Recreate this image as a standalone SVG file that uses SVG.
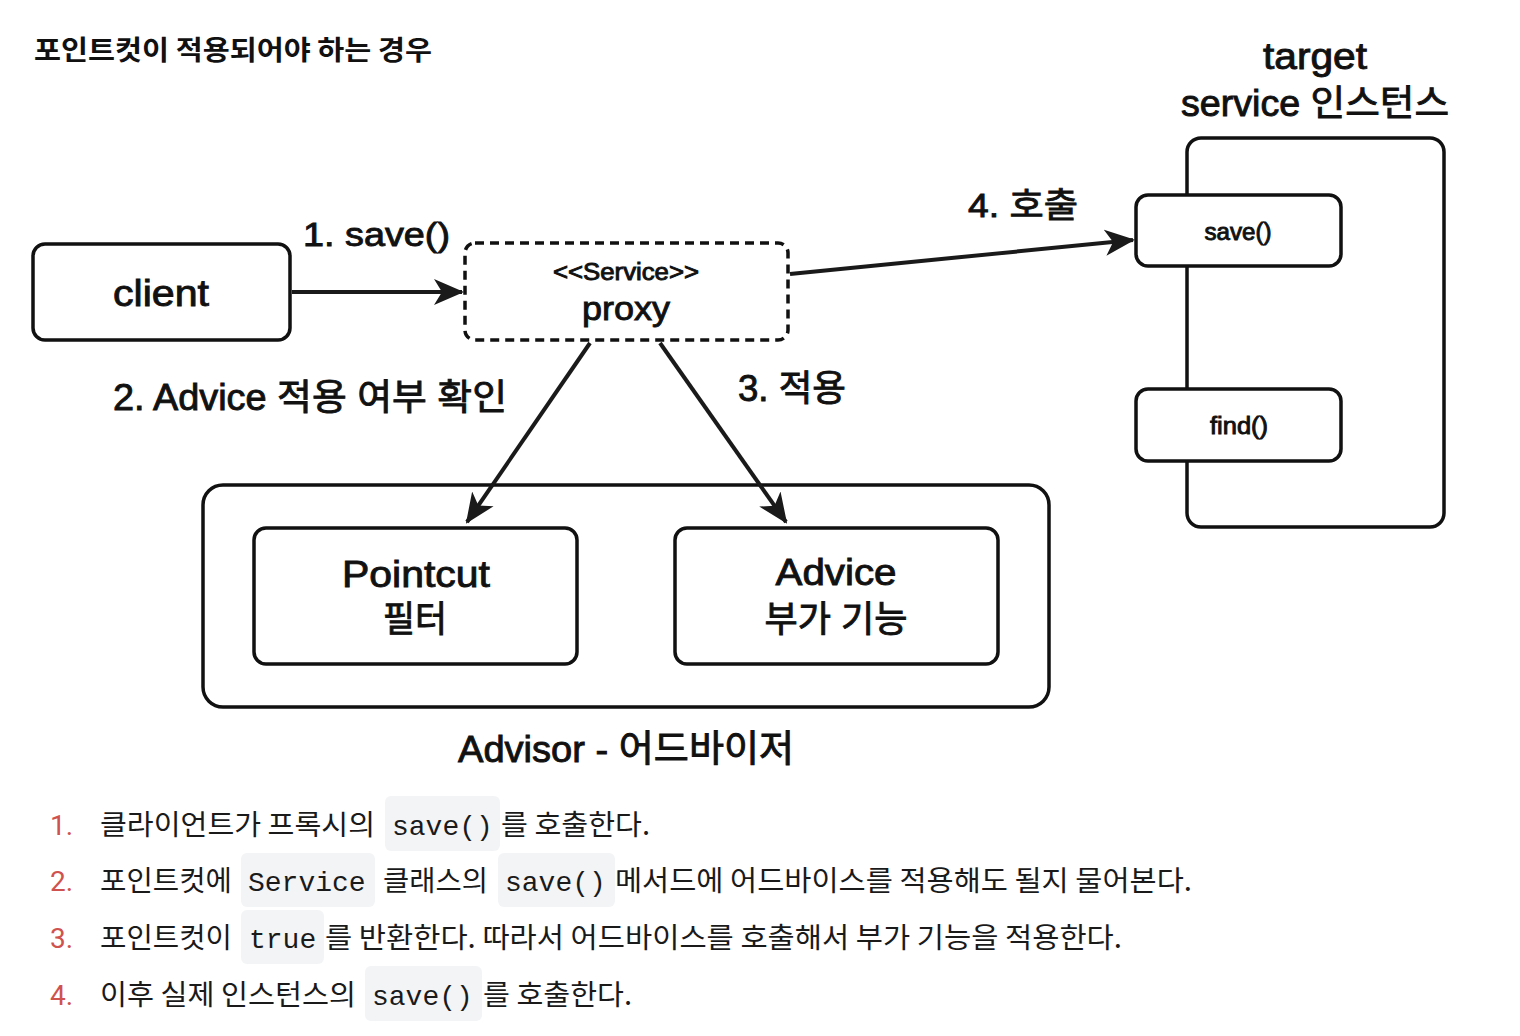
<svg xmlns="http://www.w3.org/2000/svg" width="1520" height="1036" viewBox="0 0 1520 1036">
<style>
.box{fill:#fff;stroke:#111;stroke-width:3.5}
.dash{fill:#fff;stroke:#111;stroke-width:3.5;stroke-dasharray:9 6}
.t{font-family:"Liberation Sans","Noto Sans CJK KR",sans-serif;fill:#111;stroke:#111;stroke-width:0.9;lengthAdjust:spacingAndGlyphs}
.c{text-anchor:middle}
.conn{stroke:#1a1a1a;stroke-width:4;fill:none;marker-end:url(#ah)}
.li{font-family:"Noto Sans CJK KR",sans-serif;font-size:28px;fill:#1a1a1a}
.num{font-family:Roboto,"Noto Sans CJK KR",sans-serif;font-size:28px;fill:#d0524e}
.code{font-family:"Liberation Mono","DejaVu Sans Mono",monospace;font-size:28px;fill:#1a1a1a}
.cbg{fill:#f3f4f6}
</style>
<defs>
<marker id="ah" viewBox="0 0 30 30" refX="28" refY="15" markerWidth="30" markerHeight="30" markerUnits="userSpaceOnUse" orient="auto">
<path d="M0,2 L30,15 L0,28 L8,15 z" fill="#1a1a1a"/>
</marker>
</defs>
<rect width="1520" height="1036" fill="#fff"/>
<text x="34" y="60" font-family="Noto Sans CJK KR,sans-serif" font-size="27" font-weight="bold" fill="#111" textLength="398" lengthAdjust="spacingAndGlyphs">포인트컷이 적용되어야 하는 경우</text>

<g id="labels">
<text class="t" x="303" y="246" font-size="34" textLength="147" lengthAdjust="spacingAndGlyphs">1. save()</text>
<text class="t" x="968" y="217" font-size="34" textLength="110" lengthAdjust="spacingAndGlyphs">4. 호출</text>
<text class="t" x="113" y="410" font-size="36" textLength="394" lengthAdjust="spacingAndGlyphs">2. Advice 적용 여부 확인</text>
<text class="t" x="738" y="401" font-size="36" textLength="108" lengthAdjust="spacingAndGlyphs">3. 적용</text>
</g>

<g id="client">
<rect class="box" x="33" y="244" width="257" height="96" rx="12"/>
<text class="t c" x="161" y="306" font-size="37" textLength="96" lengthAdjust="spacingAndGlyphs">client</text>
</g>

<g id="proxy">
<rect class="dash" x="465" y="243" width="323" height="97" rx="10"/>
<text class="t c" x="626" y="280" font-size="23" stroke-width="0.5" textLength="146" lengthAdjust="spacingAndGlyphs">&lt;&lt;Service&gt;&gt;</text>
<text class="t c" x="626" y="320" font-size="33" textLength="88" lengthAdjust="spacingAndGlyphs">proxy</text>
</g>

<g id="target">
<text class="t c" x="1315" y="69" font-size="36" textLength="104" lengthAdjust="spacingAndGlyphs">target</text>
<text class="t c" x="1315" y="116" font-size="36" textLength="268" lengthAdjust="spacingAndGlyphs">service 인스턴스</text>
<rect class="box" x="1187" y="138" width="257" height="389" rx="14"/>
</g>
<g id="target-save">
<rect class="box" x="1136" y="195" width="205" height="71" rx="12"/>
<text class="t c" x="1238" y="240" font-size="23" stroke-width="0.5" textLength="67" lengthAdjust="spacingAndGlyphs">save()</text>
</g>
<g id="target-find">
<rect class="box" x="1136" y="389" width="205" height="72" rx="12"/>
<text class="t c" x="1239" y="434" font-size="23" stroke-width="0.5" textLength="58" lengthAdjust="spacingAndGlyphs">find()</text>
</g>

<g id="advisor">
<rect class="box" x="203" y="485" width="846" height="222" rx="20"/>
<text class="t c" x="626" y="762" font-size="37" textLength="336" lengthAdjust="spacingAndGlyphs">Advisor - 어드바이저</text>
</g>
<g id="pointcut">
<rect class="box" x="254" y="528" width="323" height="136" rx="12"/>
<text class="t c" x="416" y="587" font-size="37" textLength="148" lengthAdjust="spacingAndGlyphs">Pointcut</text>
<text class="t c" x="415" y="632" font-size="36" textLength="64" lengthAdjust="spacingAndGlyphs">필터</text>
</g>
<g id="advice">
<rect class="box" x="675" y="528" width="323" height="136" rx="12"/>
<text class="t c" x="836" y="585" font-size="37" textLength="121" lengthAdjust="spacingAndGlyphs">Advice</text>
<text class="t c" x="836" y="632" font-size="36" textLength="143" lengthAdjust="spacingAndGlyphs">부가 기능</text>
</g>

<g id="connectors">
<line class="conn" x1="292" y1="292" x2="462" y2="292"/>
<line class="conn" x1="790" y1="274" x2="1133" y2="240"/>
<line class="conn" x1="590" y1="343" x2="467" y2="522"/>
<line class="conn" x1="660" y1="343" x2="786" y2="522"/>
</g>

<g id="list">
<rect class="cbg" x="385" y="796" width="115" height="55" rx="6"/>
<rect class="cbg" x="241" y="853" width="134" height="54" rx="6"/>
<rect class="cbg" x="498" y="853" width="117" height="54" rx="6"/>
<rect class="cbg" x="241" y="910" width="83" height="54" rx="6"/>
<rect class="cbg" x="365" y="966" width="117" height="55" rx="6"/>

<text class="num" x="50" y="835">1.</text>
<text class="li" x="100" y="835" textLength="275" lengthAdjust="spacingAndGlyphs">클라이언트가 프록시의</text>
<text class="code" x="392" y="835">save()</text>
<text class="li" x="501" y="835" textLength="149" lengthAdjust="spacingAndGlyphs">를 호출한다.</text>

<text class="num" x="50" y="891">2.</text>
<text class="li" x="100" y="891" textLength="132" lengthAdjust="spacingAndGlyphs">포인트컷에</text>
<text class="code" x="248" y="891">Service</text>
<text class="li" x="383" y="891" textLength="105" lengthAdjust="spacingAndGlyphs">클래스의</text>
<text class="code" x="505" y="891">save()</text>
<text class="li" x="615" y="891" textLength="577" lengthAdjust="spacingAndGlyphs">메서드에 어드바이스를 적용해도 될지 물어본다.</text>

<text class="num" x="50" y="948">3.</text>
<text class="li" x="100" y="948" textLength="132" lengthAdjust="spacingAndGlyphs">포인트컷이</text>
<text class="code" x="249" y="948">true</text>
<text class="li" x="325" y="948" textLength="797" lengthAdjust="spacingAndGlyphs">를 반환한다. 따라서 어드바이스를 호출해서 부가 기능을 적용한다.</text>

<text class="num" x="50" y="1005">4.</text>
<text class="li" x="100" y="1005" textLength="256" lengthAdjust="spacingAndGlyphs">이후 실제 인스턴스의</text>
<text class="code" x="372" y="1005">save()</text>
<text class="li" x="483" y="1005" textLength="149" lengthAdjust="spacingAndGlyphs">를 호출한다.</text>
</g>
</svg>
